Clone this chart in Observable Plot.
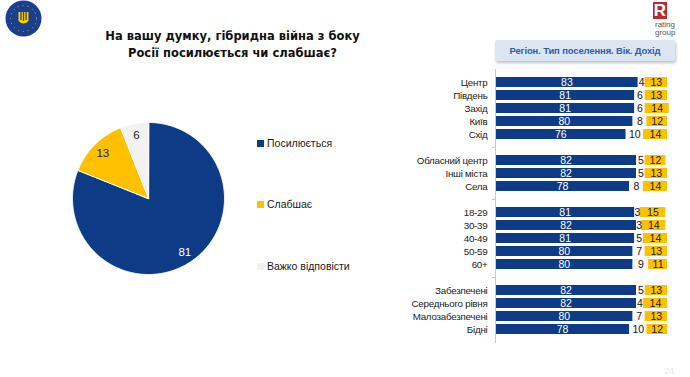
<!DOCTYPE html>
<html><head><meta charset="utf-8">
<script src="https://cdn.jsdelivr.net/npm/d3@7"></script>
<script src="https://cdn.jsdelivr.net/npm/@observablehq/plot@0.6"></script>
<style>
html,body{margin:0;padding:0;background:#fff;}
#wrap{position:relative;width:690px;height:377px;overflow:hidden;font-family:"Liberation Sans",sans-serif;color:#1a1a1a;}
.abs{position:absolute;}
#title{left:60px;top:27px;width:345px;text-align:center;font-weight:bold;font-size:12.8px;line-height:17px;color:#111;font-family:"DejaVu Sans Condensed","DejaVu Sans",sans-serif;}
#hdr{left:495px;top:40px;width:180px;height:21px;background:#dce6f2;box-shadow:1px 2px 3px rgba(0,0,0,0.25);border-radius:2px;text-align:center;line-height:21px;font-weight:bold;font-size:9.5px;letter-spacing:-0.15px;color:#2e5ea8;white-space:nowrap;}
.lg{font-size:10.5px;line-height:12px;}
.sw{display:inline-block;width:7px;height:7px;margin-right:3px;vertical-align:0px;}
#bars svg, #bars svg text{font-family:"Liberation Sans",sans-serif !important;}
#bars svg g[aria-label="y-axis tick label"] text{font-size:9.8px;letter-spacing:-0.25px;}
#pie svg, #pie svg text{font-family:"Liberation Sans",sans-serif !important;}
</style></head>
<body><div id="wrap">
  <svg class="abs" style="left:0;top:0" width="44" height="40">
    <circle cx="23.5" cy="18.5" r="18" fill="#1b3f8f"/>
    <circle cx="23.5" cy="18.5" r="13" fill="none" stroke="#ffd200" stroke-width="0.8" stroke-dasharray="1 4"/>
    <path d="M18.5 12 L18.5 21 Q23.5 26 28.5 21 L28.5 12 Z" fill="#ffcc00"/>
    <path d="M21 12 L21 20 M23.5 12 L23.5 21 M26 12 L26 20" stroke="#1b3f8f" stroke-width="1.2"/>
  </svg>
  <div class="abs" style="left:653px;top:2px;width:14px;height:17px;background:#c0272d;color:#fff;font-weight:bold;font-size:17px;line-height:17px;text-align:center;">R</div>
  <div class="abs" style="left:655px;top:21px;font-size:8px;line-height:7.5px;color:#555;">rating<br>group</div>
  <div id="title" class="abs">На вашу думку, гібридна війна з боку<br>Росії посилюється чи слабшає?</div>
  <div id="hdr" class="abs">Регіон. Тип поселення. Вік. Дохід</div>
  <div id="pie" class="abs" style="left:72px;top:122px;"></div>
  <div class="abs lg" style="left:257px;top:137px;"><span class="sw" style="background:#0d3b86"></span>Посилюється</div>
  <div class="abs lg" style="left:257px;top:198px;"><span class="sw" style="background:#ffc000"></span>Слабшає</div>
  <div class="abs lg" style="left:257px;top:260px;"><span class="sw" style="background:#f2f2f2"></span>Важко відповісти</div>
  <div id="bars" class="abs" style="left:380px;top:0;"></div>
  <div class="abs" style="left:664px;top:366px;font-size:9px;color:#dfe6ee;">24</div>
</div>
<script>
// ---- Data ----
const pieLabels = ["Посилюється", "Слабшає", "Важко відповісти"];
const pieValues = [81, 13, 6];
const pieColors = ["#0d3b86", "#ffc000", "#f2f2f2"];

const groups = [
  ["Центр", "Південь", "Захід", "Київ", "Схід"],
  ["Обласний центр", "Інші міста", "Села"],
  ["18-29", "30-39", "40-49", "50-59", "60+"],
  ["Забезпечені", "Середнього рівня", "Малозабезпечені", "Бідні"]
];
const strengthens = [83, 81, 81, 80, 76, 82, 82, 78, 81, 82, 81, 80, 80, 82, 82, 80, 78];
const hardToSay   = [4, 6, 6, 8, 10, 5, 5, 8, 3, 3, 5, 7, 9, 5, 4, 7, 10];
const weakens     = [13, 13, 14, 12, 14, 12, 13, 14, 15, 14, 14, 13, 11, 13, 14, 13, 12];
const seriesNames = ["Посилюється", "Важко відповісти", "Слабшає"];
const seriesColors = ["#0d3b86", "#f7f7f7", "#ffc000"];
const textColors = ["#ffffff", "#222222", "#222222"];

// ---- Bar chart ----
const rows = [];
const cats = [];
const gaps = [];
groups.forEach((g, gi) => {
  if (gi > 0) { rows.push("gap" + gi); gaps.push("gap" + gi); }
  g.forEach(c => { rows.push(c); cats.push(c); });
});
const long = [];
cats.forEach((c, i) => {
  [strengthens[i], hardToSay[i], weakens[i]].forEach((v, s) => long.push({row: c, series: seriesNames[s], value: v}));
});

const bars = Plot.plot({
  width: 310, height: 377,
  marginLeft: 115, marginRight: 23, marginTop: 69, marginBottom: 34,
  x: {domain: [0, 100], axis: null},
  y: {domain: rows, padding: 0.2, label: null, tickSize: 0, tickPadding: 8, tickFormat: d => d.startsWith("gap") ? "" : d},
  color: {domain: seriesNames, range: seriesColors},
  style: {fontSize: "10px", color: "#222", overflow: "visible"},
  marks: [
    Plot.barX(long, Plot.stackX({x: "value", y: "row", fill: "series", z: "series", order: seriesNames})),
    Plot.text(long, Plot.stackX({x: "value", y: "row", z: "series", order: seriesNames, text: "value",
      fill: d => textColors[seriesNames.indexOf(d.series)], fontSize: 10.5})),
    Plot.ruleY(gaps, {y: d => d, x1: -1.8, x2: 0, stroke: "#c8c8c8", clip: false}),
    Plot.ruleX([0], {stroke: "#c8c8c8"})
  ]
});
document.getElementById("bars").appendChild(bars);

// ---- Pie ----
const arcs = d3.pie().sort(null).value(d => d)(pieValues);
const piePts = [];
arcs.forEach((a, i) => {
  piePts.push({s: pieLabels[i], x: 0, y: 0});
  const n = Math.max(2, Math.ceil((a.endAngle - a.startAngle) / 0.01));
  for (let k = 0; k <= n; k++) {
    const t = a.startAngle + (a.endAngle - a.startAngle) * k / n;
    piePts.push({s: pieLabels[i], x: Math.sin(t), y: Math.cos(t)});
  }
});
const pieText = arcs.map((a, i) => {
  const m = (a.startAngle + a.endAngle) / 2;
  return {s: pieLabels[i], v: pieValues[i], x: 0.85 * Math.sin(m), y: 0.85 * Math.cos(m), c: i === 0 ? "#ffffff" : "#222222"};
});
const pie = Plot.plot({
  width: 152, height: 152, margin: 0,
  x: {domain: [-1, 1], axis: null},
  y: {domain: [-1, 1], axis: null},
  color: {domain: pieLabels, range: pieColors},
  style: {overflow: "visible"},
  marks: [
    Plot.line(piePts, {x: "x", y: "y", z: "s", fill: "s", stroke: "#ffffff", strokeWidth: 1, curve: "linear-closed"}),
    Plot.text(pieText, {x: "x", y: "y", text: "v", fill: "c", fontSize: 11.5})
  ]
});
document.getElementById("pie").appendChild(pie);
</script>
</body></html>
